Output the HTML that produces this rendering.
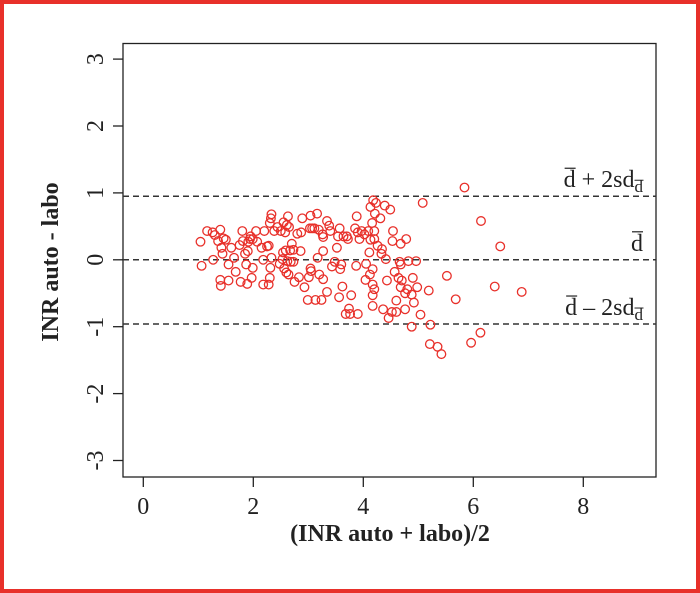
<!DOCTYPE html>
<html><head><meta charset="utf-8"><style>
html,body{margin:0;padding:0;background:#fff;}
#wrap{position:relative;width:700px;height:593px;overflow:hidden;}
svg{position:absolute;left:0;top:0;}
text{font-family:"Liberation Serif",serif;}
</style></head><body>
<div id="wrap">
<svg id="chart" width="700" height="593" viewBox="0 0 700 593">
<rect x="2" y="2" width="696" height="589" fill="none" stroke="#e8302a" stroke-width="4"/>
<rect x="123" y="43.5" width="533" height="433.5" fill="none" stroke="#222" stroke-width="1.3"/>
<g id="marks"></g>
<text x="58" y="262" transform="rotate(-90 58 262)" text-anchor="middle" font-size="24" font-weight="bold" fill="#222">INR auto - labo</text>
<text x="390" y="541" text-anchor="middle" font-size="24" font-weight="bold" fill="#222">(INR auto + labo)/2</text>
</svg>
</div>
<script>
const xTicks=[0,2,4,6,8];
const yTicks=[-3,-2,-1,0,1,2,3];
const meanDiff=0;
const upperLoA=0.95;
const lowerLoA=-0.96;
const xVals=[1.04,1.06,1.16,1.26,1.27,1.30,1.36,1.40,1.40,1.41,1.42,1.44,1.46,1.50,1.55,1.55,1.60,1.65,1.68,1.75,1.77,1.80,1.81,1.85,1.87,1.89,1.90,1.91,1.94,1.95,1.97,1.99,1.99,2.05,2.07,2.15,2.18,2.18,2.20,2.25,2.28,2.28,2.30,2.30,2.31,2.32,2.33,2.33,2.38,2.44,2.48,2.50,2.53,2.54,2.55,2.56,2.58,2.59,2.60,2.61,2.62,2.63,2.64,2.65,2.67,2.68,2.70,2.73,2.73,2.75,2.80,2.83,2.86,2.87,2.89,2.93,2.99,3.01,3.03,3.04,3.04,3.05,3.07,3.11,3.13,3.16,3.17,3.19,3.20,3.24,3.26,3.27,3.27,3.27,3.34,3.34,3.38,3.40,3.43,3.48,3.52,3.54,3.56,3.57,3.58,3.60,3.62,3.64,3.68,3.70,3.72,3.74,3.76,3.78,3.85,3.87,3.88,3.90,3.90,3.93,3.97,4.02,4.04,4.05,4.09,4.11,4.12,4.13,4.13,4.16,4.17,4.17,4.17,4.17,4.18,4.20,4.20,4.20,4.21,4.23,4.26,4.31,4.33,4.34,4.36,4.39,4.41,4.43,4.46,4.49,4.52,4.53,4.54,4.57,4.60,4.60,4.64,4.66,4.68,4.68,4.68,4.70,4.76,4.76,4.78,4.80,4.82,4.88,4.88,4.90,4.92,4.96,4.98,5.04,5.08,5.19,5.21,5.22,5.35,5.42,5.52,5.68,5.84,5.96,6.13,6.14,6.39,6.49,6.88];
const yVals=[0.27,-0.09,0.43,0.41,0.0,0.37,0.28,0.45,-0.30,-0.39,0.18,0.09,0.32,0.30,-0.07,-0.31,0.18,0.03,-0.18,0.22,-0.33,0.43,0.28,0.09,-0.07,-0.36,0.13,0.27,0.31,0.35,-0.27,-0.12,0.31,0.43,0.27,0.18,0.0,-0.37,0.43,0.20,0.21,-0.37,0.55,-0.27,-0.12,0.62,0.03,0.68,0.43,0.49,-0.06,0.43,0.01,0.11,0.56,-0.13,0.41,0.14,-0.19,0.52,-0.02,0.65,-0.22,0.49,0.14,-0.03,0.24,0.15,-0.03,-0.33,0.39,-0.26,0.13,0.41,0.62,-0.41,-0.60,-0.26,0.47,0.66,-0.13,-0.17,0.47,0.47,-0.60,0.69,0.03,0.45,-0.22,-0.60,0.38,-0.29,0.13,0.34,-0.48,0.58,0.51,0.43,-0.10,-0.03,0.18,0.35,-0.56,0.47,-0.14,-0.07,-0.40,0.35,-0.81,0.35,0.31,-0.73,-0.81,-0.53,0.47,-0.09,0.65,0.41,-0.81,0.31,0.43,0.38,-0.30,-0.06,0.43,0.11,-0.22,0.79,0.30,0.55,-0.69,-0.37,-0.53,-0.14,0.89,0.43,-0.44,0.31,0.69,0.85,0.21,0.62,0.09,0.16,-0.74,0.81,0.01,-0.31,-0.87,0.75,-0.78,0.28,0.43,-0.18,-0.61,-0.78,-0.27,-0.03,0.24,-0.07,-0.41,-0.31,-0.50,-0.74,0.31,-0.44,-0.02,-0.52,-1.0,-0.27,-0.64,-0.02,-0.41,-0.82,0.85,-0.46,-1.26,-0.97,-1.30,-1.41,-0.24,-0.59,1.08,-1.24,-1.09,0.58,-0.40,0.20,-0.48];

const NS='http://www.w3.org/2000/svg';
const g=document.getElementById('marks');
const X0=123,X1=656,Y0=43.5,Y1=477;
function sx(v){return 143.3+v*55.0;}
function sy(v){return 259.8-v*66.9;}
function mk(tag,attrs){const e=document.createElementNS(NS,tag);for(const k in attrs)e.setAttribute(k,attrs[k]);g.appendChild(e);return e;}

xTicks.forEach(t=>{
  const l=mk('line',{x1:sx(t),x2:sx(t),y1:Y1,y2:Y1+10,stroke:'#222','stroke-width':1.3});
  
  
  const tx=mk('text',{x:sx(t),y:Y1+37,'text-anchor':'middle','font-size':24,fill:'#222'});
  tx.textContent=t;
  
  
});
yTicks.forEach(t=>{
  const l=mk('line',{x1:X0-10,x2:X0,y1:sy(t),y2:sy(t),stroke:'#222','stroke-width':1.3});
  
  
  const tx=mk('text',{x:103,y:sy(t),'text-anchor':'middle','font-size':24,fill:'#222',transform:'rotate(-90 103 '+sy(t)+')'});
  tx.textContent=t;
  
  
});
[[upperLoA,'upper-limit-line'],[meanDiff,'mean-line'],[lowerLoA,'lower-limit-line']].forEach(([v,n])=>{
  const l=mk('line',{x1:X0,x2:X1,y1:sy(v),y2:sy(v),stroke:'#333','stroke-width':1.5,'stroke-dasharray':'6,4'});
  
  
});
function label(v,suffix,name){
  const y=sy(v)-9;
  const t=mk('text',{x:643,y:y,'text-anchor':'end','font-size':24,fill:'#222'});
  
  
  const a=document.createElementNS(NS,'tspan');a.textContent='d';t.appendChild(a);
  if(suffix){
    const b=document.createElementNS(NS,'tspan');b.textContent=suffix+'sd';t.appendChild(b);
    const c=document.createElementNS(NS,'tspan');c.setAttribute('font-size','17');c.setAttribute('dy','5');c.textContent='d';t.appendChild(c);
  }
  const bb=t.getBBox();
  const ov1=mk('line',{x1:bb.x+1,x2:bb.x+12,y1:y-19,y2:y-19,stroke:'#222','stroke-width':1.2});
  
  
  if(suffix){
    const ov2=mk('line',{x1:bb.x+bb.width-9,x2:bb.x+bb.width,y1:y-7,y2:y-7,stroke:'#222','stroke-width':1});
    
    
  }
}
label(upperLoA,' + 2','upper-limit-label');
label(meanDiff,'','mean-label');
label(lowerLoA,' \u2013 2','lower-limit-label');

xVals.forEach((xv,i)=>{
  const c=mk('circle',{cx:sx(xv),cy:sy(yVals[i]),r:4.3,fill:'none',stroke:'#e8302a','stroke-width':1.3});
  
  
});
</script>
</body></html>
